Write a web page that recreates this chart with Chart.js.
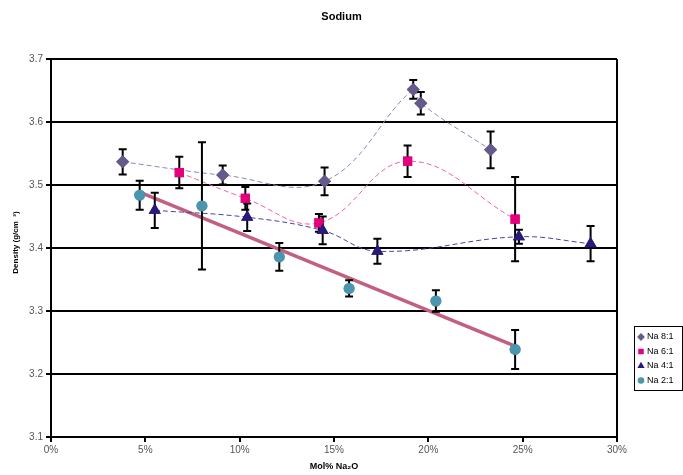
<!DOCTYPE html>
<html>
<head>
<meta charset="utf-8">
<title>Sodium</title>
<script src="https://cdn.jsdelivr.net/npm/chart.js@4.4.1/dist/chart.umd.min.js"></script>
<style>
    body { margin: 0; background: #fff; }
    canvas { display: block; }
</style>
</head>
<body>
<canvas id="densityChart" width="683" height="475"></canvas>
<script>
// Dados (x = Mol% Na2O, y = densidade, err = barra de erro)
const na81X = [3.8, 9.1, 14.5, 19.2, 19.6, 23.3];
const na81Y = [3.537, 3.516, 3.506, 3.652, 3.630, 3.556];
const na81Err = [0.020, 0.015, 0.022, 0.015, 0.018, 0.029];

const na61X = [6.8, 10.3, 14.2, 18.9, 24.6];
const na61Y = [3.520, 3.479, 3.440, 3.538, 3.446];
const na61Err = [0.025, 0.018, 0.014, 0.025, 0.067];

const na41X = [5.5, 10.4, 14.4, 17.3, 24.8, 28.6];
const na41Y = [3.460, 3.449, 3.428, 3.395, 3.418, 3.407];
const na41Err = [0.028, 0.022, 0.022, 0.020, 0.011, 0.028];

const na21X = [4.7, 8.0, 12.1, 15.8, 20.4, 24.6];
const na21Y = [3.484, 3.467, 3.386, 3.336, 3.316, 3.239];
const na21Err = [0.023, 0.101, 0.022, 0.013, 0.017, 0.031];

const seriesLabels = ['Na 8:1', 'Na 6:1', 'Na 4:1', 'Na 2:1'];
const xTicks = [0, 5, 10, 15, 20, 25, 30];
const yTicks = [3.1, 3.2, 3.3, 3.4, 3.5, 3.6, 3.7];

// Junta x e y em pontos
function toPoints(xs, ys) {
    return xs.map((x, i) => ({ x: x, y: ys[i] }));
}

// Linha de tendência linear (mínimos quadrados) para Na 2:1
function linearTrend(xs, ys) {
    const n = xs.length;
    const mx = xs.reduce((a, b) => a + b, 0) / n;
    const my = ys.reduce((a, b) => a + b, 0) / n;
    let sxy = 0, sxx = 0;
    for (let i = 0; i < n; i++) {
        sxy += (xs[i] - mx) * (ys[i] - my);
        sxx += (xs[i] - mx) * (xs[i] - mx);
    }
    const slope = sxy / sxx;
    const x0 = Math.min(...xs), x1 = Math.max(...xs);
    return [
        { x: x0, y: my + slope * (x0 - mx) },
        { x: x1, y: my + slope * (x1 - mx) }
    ];
}

// Plugin para as barras de erro
const errorBars = {
    id: 'errorBars',
    afterDatasetsDraw(chart) {
        const ctx = chart.ctx;
        const xs = chart.scales.x, ys = chart.scales.y;
        ctx.save();
        ctx.strokeStyle = '#000';
        ctx.lineWidth = 2;
        chart.data.datasets.forEach(ds => {
            if (!ds.err) return;
            ds.data.forEach((p, i) => {
                const px = xs.getPixelForValue(p.x);
                const top = ys.getPixelForValue(p.y + ds.err[i]);
                const bot = ys.getPixelForValue(p.y - ds.err[i]);
                ctx.beginPath();
                ctx.moveTo(px, top); ctx.lineTo(px, bot);
                ctx.moveTo(px - 4, top); ctx.lineTo(px + 4, top);
                ctx.moveTo(px - 4, bot); ctx.lineTo(px + 4, bot);
                ctx.stroke();
            });
        });
        ctx.restore();
        // redesenha os marcadores por cima das barras
        chart.data.datasets.forEach((ds, di) => {
            if (!ds.err) return;
            const meta = chart.getDatasetMeta(di);
            meta.data.forEach(el => el.draw(ctx, chart.chartArea));
        });
    }
};

// Plugin da legenda com borda, à direita
const boxLegend = {
    id: 'boxLegend',
    afterDraw(chart) {
        const ctx = chart.ctx;
        const left = 634, top = 326, w = 48, h = 64;
        ctx.save();
        ctx.fillStyle = '#fff';
        ctx.fillRect(left, top, w, h);
        ctx.strokeStyle = '#000';
        ctx.lineWidth = 1;
        ctx.strokeRect(left + 0.5, top + 0.5, w, h);
        ctx.font = '9px "Liberation Sans", Arial, sans-serif';
        ctx.textBaseline = 'middle';
        seriesLabels.forEach((label, i) => {
            const ds = chart.data.datasets[i];
            const y = top + 11 + i * 14.5;
            ctx.fillStyle = ds.pointBackgroundColor;
            ctx.strokeStyle = ds.pointBackgroundColor;
            Chart.helpers.drawPoint(ctx, {
                pointStyle: ds.pointStyle,
                radius: ds.pointRadius * 0.6,
                rotation: 0,
                borderWidth: 0
            }, left + 7, y);
            ctx.fillStyle = '#000';
            ctx.fillText(label, left + 13, y);
        });
        ctx.restore();
    }
};

const ctx = document.getElementById('densityChart').getContext('2d');
Chart.defaults.font.family = '"Liberation Sans", Arial, sans-serif';

new Chart(ctx, {
    type: 'scatter',
    data: {
        datasets: [
            {
                label: seriesLabels[0],
                data: toPoints(na81X, na81Y),
                err: na81Err,
                showLine: true,
                tension: 0.4,
                borderColor: '#9088B4',
                borderWidth: 1,
                borderDash: [5, 3],
                pointStyle: 'rectRot',
                pointRadius: 6.5,
                pointBackgroundColor: '#66598C',
                pointBorderWidth: 0,
                order: 4
            },
            {
                label: seriesLabels[1],
                data: toPoints(na61X, na61Y),
                err: na61Err,
                showLine: true,
                tension: 0.4,
                borderColor: '#F060AC',
                borderWidth: 1,
                borderDash: [5, 3],
                pointStyle: 'rect',
                pointRadius: 6.5,
                pointBackgroundColor: '#E5007D',
                pointBorderWidth: 0,
                order: 3
            },
            {
                label: seriesLabels[2],
                data: toPoints(na41X, na41Y),
                err: na41Err,
                showLine: true,
                tension: 0.4,
                borderColor: '#4A42A0',
                borderWidth: 1,
                borderDash: [5, 3],
                pointStyle: 'triangle',
                pointRadius: 7,
                pointBackgroundColor: '#2A1B7A',
                pointBorderWidth: 0,
                order: 2
            },
            {
                label: seriesLabels[3],
                data: toPoints(na21X, na21Y),
                err: na21Err,
                showLine: false,
                pointStyle: 'circle',
                pointRadius: 5.5,
                pointBackgroundColor: '#4B95AF',
                pointBorderWidth: 0,
                order: 1
            },
            {
                label: 'Linear (Na 2:1)',
                data: linearTrend(na21X, na21Y),
                showLine: true,
                borderColor: '#C2607F',
                borderWidth: 3.5,
                pointRadius: 0,
                order: 5
            }
        ]
    },
    options: {
        responsive: false,
        animation: false,
        layout: { padding: 0 },
        plugins: {
            legend: { display: false },
            tooltip: { enabled: false },
            title: {
                display: true,
                text: 'Sodium',
                color: '#000',
                font: { size: 11, weight: 'bold' },
                padding: { top: 10, bottom: 36 }
            }
        },
        scales: {
            x: {
                type: 'linear',
                min: 0,
                max: 30,
                afterBuildTicks: axis => { axis.ticks = xTicks.map(v => ({ value: v })); },
                afterFit: axis => { axis.height = 38; },
                ticks: {
                    color: '#555',
                    font: { size: 10 },
                    padding: 2,
                    maxRotation: 0,
                    callback: v => v + '%'
                },
                grid: {
                    color: c => (c.tick && c.tick.value === 30 ? '#000' : 'rgba(0,0,0,0)'),
                    lineWidth: 2,
                    drawTicks: true,
                    tickLength: 5,
                    tickColor: '#000',
                    tickWidth: 2
                },
                border: { color: '#000', width: 2 },
                title: {
                    display: true,
                    text: 'Mol% Na₂O',
                    color: '#000',
                    font: { size: 9, weight: 'bold' },
                    padding: { top: 0, bottom: 3 }
                }
            },
            y: {
                min: 3.1,
                max: 3.7,
                afterBuildTicks: axis => { axis.ticks = yTicks.map(v => ({ value: v })); },
                afterFit: axis => { axis.width = 51; },
                ticks: {
                    color: '#555',
                    font: { size: 10 },
                    padding: 3,
                    callback: v => v.toFixed(1)
                },
                grid: {
                    color: '#000',
                    lineWidth: 2,
                    drawTicks: true,
                    tickLength: 5,
                    tickColor: '#000',
                    tickWidth: 2
                },
                border: { color: '#000', width: 2 },
                title: {
                    display: true,
                    text: '     Density (g/cm  ³)',
                    color: '#000',
                    font: { size: 8, weight: 'bold' },
                    padding: { top: 11, bottom: 0 }
                }
            },
            // eixo vazio à direita, só para reservar o espaço da legenda
            yRight: {
                position: 'right',
                min: 3.1,
                max: 3.7,
                afterFit: axis => { axis.width = 66; },
                ticks: { display: false },
                grid: { drawOnChartArea: false, drawTicks: false },
                border: { display: false }
            }
        }
    },
    plugins: [errorBars, boxLegend]
});
</script>
</body>
</html>
